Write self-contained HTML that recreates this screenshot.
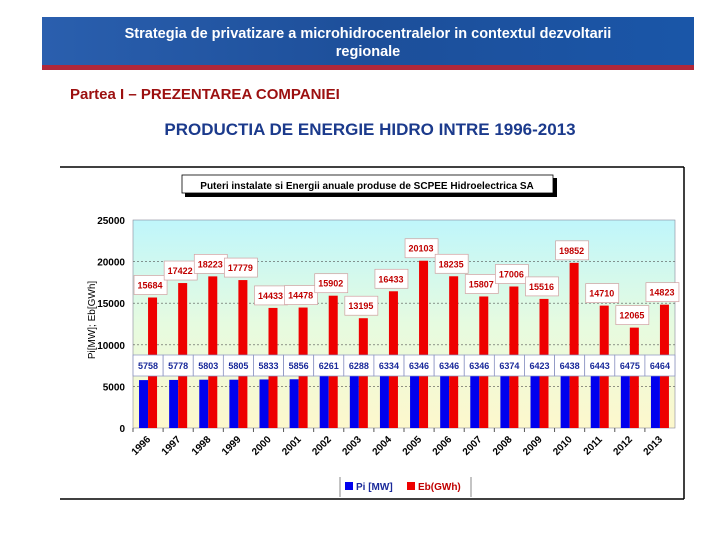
<!DOCTYPE html>
<html><head><meta charset="utf-8"><style>
body{margin:0;width:720px;height:540px;background:#fff;overflow:hidden;font-family:"Liberation Sans",sans-serif;}
</style></head><body>
<svg width="720" height="540" xmlns="http://www.w3.org/2000/svg">
<defs>
<linearGradient id="ban" x1="0" y1="0" x2="1" y2="0"><stop offset="0" stop-color="#2a5fae"/><stop offset="0.5" stop-color="#1d4f9a"/><stop offset="1" stop-color="#1a56a8"/></linearGradient>
<linearGradient id="pbg" x1="0" y1="0" x2="0" y2="1"><stop offset="0" stop-color="#bff6fb"/><stop offset="0.5" stop-color="#e6fbe0"/><stop offset="1" stop-color="#fdf8cc"/></linearGradient>
</defs>
<g>
<rect x="42" y="17" width="652" height="49" fill="url(#ban)"/>
<rect x="42" y="65" width="652" height="5" fill="#b0283a"/>
<text x="368" y="38" text-anchor="middle" font-size="14.5" font-weight="bold" fill="#fff">Strategia  de privatizare a microhidrocentralelor in contextul dezvoltarii</text>
<text x="368" y="56" text-anchor="middle" font-size="14.5" font-weight="bold" fill="#fff">regionale</text>
</g>
<text x="70" y="99" font-size="15" font-weight="bold" fill="#9c1010">Partea I – PREZENTAREA COMPANIEI</text>
<text x="370" y="135" text-anchor="middle" font-size="17" font-weight="bold" fill="#1b3a8c">PRODUCTIA DE ENERGIE HIDRO INTRE 1996-2013</text>
<line x1="60" y1="167" x2="684" y2="167" stroke="#000" stroke-width="1.5"/>
<line x1="684" y1="167" x2="684" y2="499" stroke="#000" stroke-width="1.5"/>
<line x1="60" y1="499" x2="684" y2="499" stroke="#000" stroke-width="1.5"/>
<g>
<rect x="185" y="178" width="372" height="19" fill="#000"/>
<rect x="182" y="175" width="371" height="18" fill="#fff" stroke="#000" stroke-width="0.8"/>
<text x="367" y="189" text-anchor="middle" font-size="10" font-weight="bold" fill="#000">Puteri instalate si Energii anuale produse de SCPEE Hidroelectrica SA</text>
</g>
<rect x="133" y="220" width="542" height="208" fill="url(#pbg)" stroke="#889" stroke-width="0.6"/>
<g id="chart"></g>
<text transform="translate(95,320) rotate(-90)" text-anchor="middle" font-size="10" fill="#000">Pi[MW]; Eb[GWh]</text>
<g>
<line x1="340" y1="477" x2="340" y2="497" stroke="#888"/>
<line x1="471" y1="477" x2="471" y2="497" stroke="#888"/>
<rect x="345" y="482" width="8" height="8" fill="#0000ee"/>
<text x="356" y="490" font-size="10" font-weight="bold" fill="#1a2a9a">Pi [MW]</text>
<rect x="407" y="482" width="8" height="8" fill="#ee0000"/>
<text x="418" y="490" font-size="10" font-weight="bold" fill="#c00000">Eb(GWh)</text>
</g>
</svg>
<script>
const years = ["1996","1997","1998","1999","2000","2001","2002","2003","2004","2005","2006","2007","2008","2009","2010","2011","2012","2013"];
const piMW = [5758,5778,5803,5805,5833,5856,6261,6288,6334,6346,6346,6346,6374,6423,6438,6443,6475,6464];
const ebGWh = [15684,17422,18223,17779,14433,14478,15902,13195,16433,20103,18235,15807,17006,15516,19852,14710,12065,14823];
const yTicks = [0,5000,10000,15000,20000,25000];
const NS="http://www.w3.org/2000/svg";
const g=document.getElementById('chart');
const X0=133,X1=675,Y0=428,Y1=220,YMAX=25000;
const cw=(X1-X0)/years.length;
const y=v=>Y0-(v/YMAX)*(Y0-Y1);
const xc=i=>X0+cw*(i+0.5);
function mk(t,a){const e=document.createElementNS(NS,t);for(const k in a)e.setAttribute(k,a[k]);g.appendChild(e);return e;}
yTicks.forEach(v=>{
  if(v>0&&v<YMAX){const l=mk('line',{x1:X0,x2:X1,y1:y(v),y2:y(v),stroke:'#555','stroke-width':0.6,'stroke-dasharray':'2,2'});
  
  }
  const t=mk('text',{x:X0-8,y:y(v)+4,'text-anchor':'end','font-size':10,'font-weight':'bold',fill:'#000'});
  t.textContent=v;
  
  
});
years.forEach((yr,i)=>{
  const c=xc(i);
  const b=mk('rect',{x:c-9,y:y(piMW[i]),width:9,height:Y0-y(piMW[i]),fill:'#0000ee'});
  
  
  const r=mk('rect',{x:c,y:y(ebGWh[i]),width:9,height:Y0-y(ebGWh[i]),fill:'#ee0000'});
  
  
  const tk=mk('line',{x1:X0+cw*i,x2:X0+cw*i,y1:Y0,y2:Y0+4,stroke:'#555'});
  
  
  const bx=mk('rect',{x:c-15,y:355,width:30,height:21,fill:'#fff',stroke:'#8890c0','stroke-width':0.7});
  
  
  const pt=mk('text',{x:c,y:369,'text-anchor':'middle','font-size':9,'font-weight':'bold',fill:'#1a2a9a'});
  pt.textContent=piMW[i];
  
  
  const ly=y(ebGWh[i])-22;
  const ebx=mk('rect',{x:c-14,y:ly,width:33,height:19,fill:'#fff',stroke:'#d0a0a0','stroke-width':0.7});
  
  
  const et=mk('text',{x:c+2,y:ly+13,'text-anchor':'middle','font-size':9,'font-weight':'bold',fill:'#c00000'});
  et.textContent=ebGWh[i];
  
  
  const xl=mk('text',{transform:`translate(${c+3},${Y0+12}) rotate(-45)`,'text-anchor':'end','font-size':10,'font-weight':'bold',fill:'#000'});
  xl.textContent=yr;
  
  
});
</script>
</body></html>
